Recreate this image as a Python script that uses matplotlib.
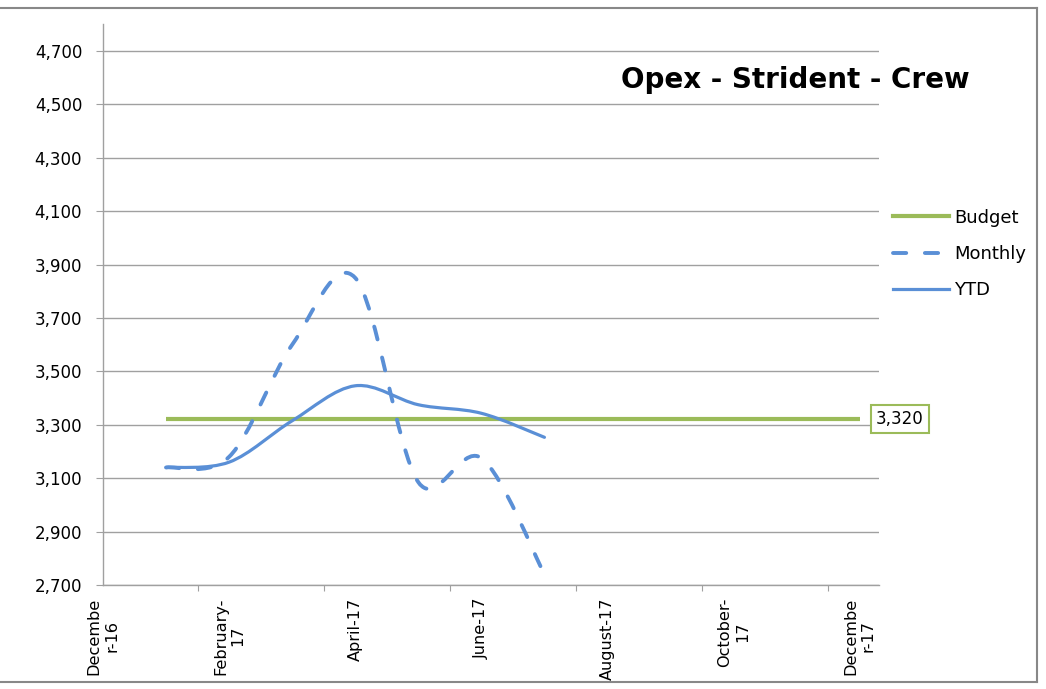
import numpy as np
import matplotlib
matplotlib.use('Agg')
import matplotlib.pyplot as plt
from matplotlib.path import Path
from matplotlib.patches import PathPatch
from matplotlib.lines import Line2D

plt.rcParams['font.family'] = ['DejaVu Sans']

# month index: 0 = Dec-16, 1 = Jan-17 ... 12 = Dec-17
label_months = [0, 2, 4, 6, 8, 10, 12]
month_labels = ['Decembe\nr-16', 'February-\n17', 'April-17', 'June-17',
                'August-17', 'October-\n17', 'Decembe\nr-17']
months = [1, 2, 3, 4, 5, 6, 7]
monthly = [3140, 3180, 3600, 3850, 3085, 3175, 2740]
ytd = [3140, 3160, 3315, 3446, 3375, 3343, 3253]
budget_months = [1, 2, 3, 4, 5, 6, 7, 8, 9, 10, 11, 12]
budget = [3320] * 12

green = '#9BBB59'
blue = '#5A8FD6'
grid_c = '#A0A0A0'
dash = (0, (3.4, 4.8))


def smooth_path(ax, xs, ys):
    # excel style smoothing: bezier segments worked out in screen space
    tr = ax.transData
    pts = tr.transform(np.column_stack([xs, ys]).astype(float))
    n = len(pts)
    verts = [pts[0]]
    codes = [Path.MOVETO]
    f = 1 / 6
    for i in range(n - 1):
        p0 = pts[i - 1] if i > 0 else pts[i]
        p1 = pts[i]
        p2 = pts[i + 1]
        p3 = pts[i + 2] if i + 2 < n else pts[i + 1]
        d02 = np.hypot(*(p2 - p0))
        d12 = np.hypot(*(p2 - p1))
        d13 = np.hypot(*(p3 - p1))
        f1 = f2 = f
        if d02 * f >= d12 / 2 and d02 > 0:
            f1 = d12 / d02 / 2
        if d13 * f >= d12 / 2 and d13 > 0:
            f2 = d12 / d13 / 2
        verts += [p1 + f1 * (p2 - p0), p2 - f2 * (p3 - p1), p2]
        codes += [Path.CURVE4] * 3
    verts = tr.inverted().transform(np.array(verts))
    return Path(verts, codes)


fig = plt.figure(figsize=(10.46, 6.89), dpi=100)
ax = fig.add_axes([0.0985, 0.151, 0.7415, 0.8138])

ax.set_ylim(2700, 4800)
ax.set_xlim(0, 12.3)
ax.set_yticks(np.arange(2700, 4701, 200))
ax.set_yticklabels(['{:,}'.format(v) for v in range(2700, 4701, 200)], fontsize=12)
ax.grid(axis='y', color=grid_c, lw=1)
ax.set_axisbelow(True)

ax.set_xticks([1.5, 3.5, 5.5, 7.5, 9.5, 11.5])
ax.set_xticklabels([])
ax.set_xticks(label_months, minor=True)
ax.set_xticklabels(month_labels, minor=True, rotation=90, fontsize=11.6,
                   ha='center', va='top', multialignment='center')
ax.tick_params(axis='x', which='minor', length=0, pad=9)
ax.tick_params(axis='x', which='major', length=4, color=grid_c, direction='out')
ax.tick_params(axis='y', length=5, color=grid_c, pad=10)

for s in ['top', 'right']:
    ax.spines[s].set_visible(False)
for s in ['left', 'bottom']:
    ax.spines[s].set_color(grid_c)
    ax.spines[s].set_linewidth(1)

ax.plot(budget_months, budget, color=green, lw=3, solid_capstyle='butt', zorder=3)

p_month = PathPatch(smooth_path(ax, months, monthly), fill=False, ec=blue, lw=2.8,
                    linestyle=dash, capstyle='round', zorder=4)
ax.add_patch(p_month)
p_ytd = PathPatch(smooth_path(ax, months, ytd), fill=False, ec=blue, lw=2.3,
                  capstyle='round', zorder=4)
ax.add_patch(p_ytd)

ax.annotate('{:,}'.format(budget[-1]), xy=(budget_months[-1], budget[-1]),
            xytext=(40, 0), textcoords='offset pixels', ha='center', va='center',
            fontsize=12, annotation_clip=False,
            bbox=dict(boxstyle='square,pad=0.3', fc='white', ec=green, lw=1.5))

handles = [Line2D([], [], color=green, lw=3),
           Line2D([], [], color=blue, lw=2.8, linestyle=dash, dash_capstyle='round'),
           Line2D([], [], color=blue, lw=2.3)]
fig.legend(handles, ['Budget', 'Monthly', 'YTD'], loc='center left',
           bbox_to_anchor=(893 / 1046, 1 - 254 / 689), frameon=False, fontsize=13,
           handlelength=3.1, handletextpad=0.3, labelspacing=1.02, borderpad=0,
           borderaxespad=0)

fig.text(795 / 1046, 1 - 88 / 689, 'Opex - Strident - Crew', fontsize=20,
         fontweight='bold', ha='center', va='baseline')

# chart frame
fig.add_artist(Line2D([0, 1037 / 1046], [1 - 8 / 689, 1 - 8 / 689], color='#888888', lw=1.5))
fig.add_artist(Line2D([1037 / 1046, 1037 / 1046], [1 - 8 / 689, 1 - 682 / 689], color='#888888', lw=1.5))
fig.add_artist(Line2D([0, 1037 / 1046], [1 - 682 / 689, 1 - 682 / 689], color='#888888', lw=1.5))

fig.savefig('out.png', dpi=100)
